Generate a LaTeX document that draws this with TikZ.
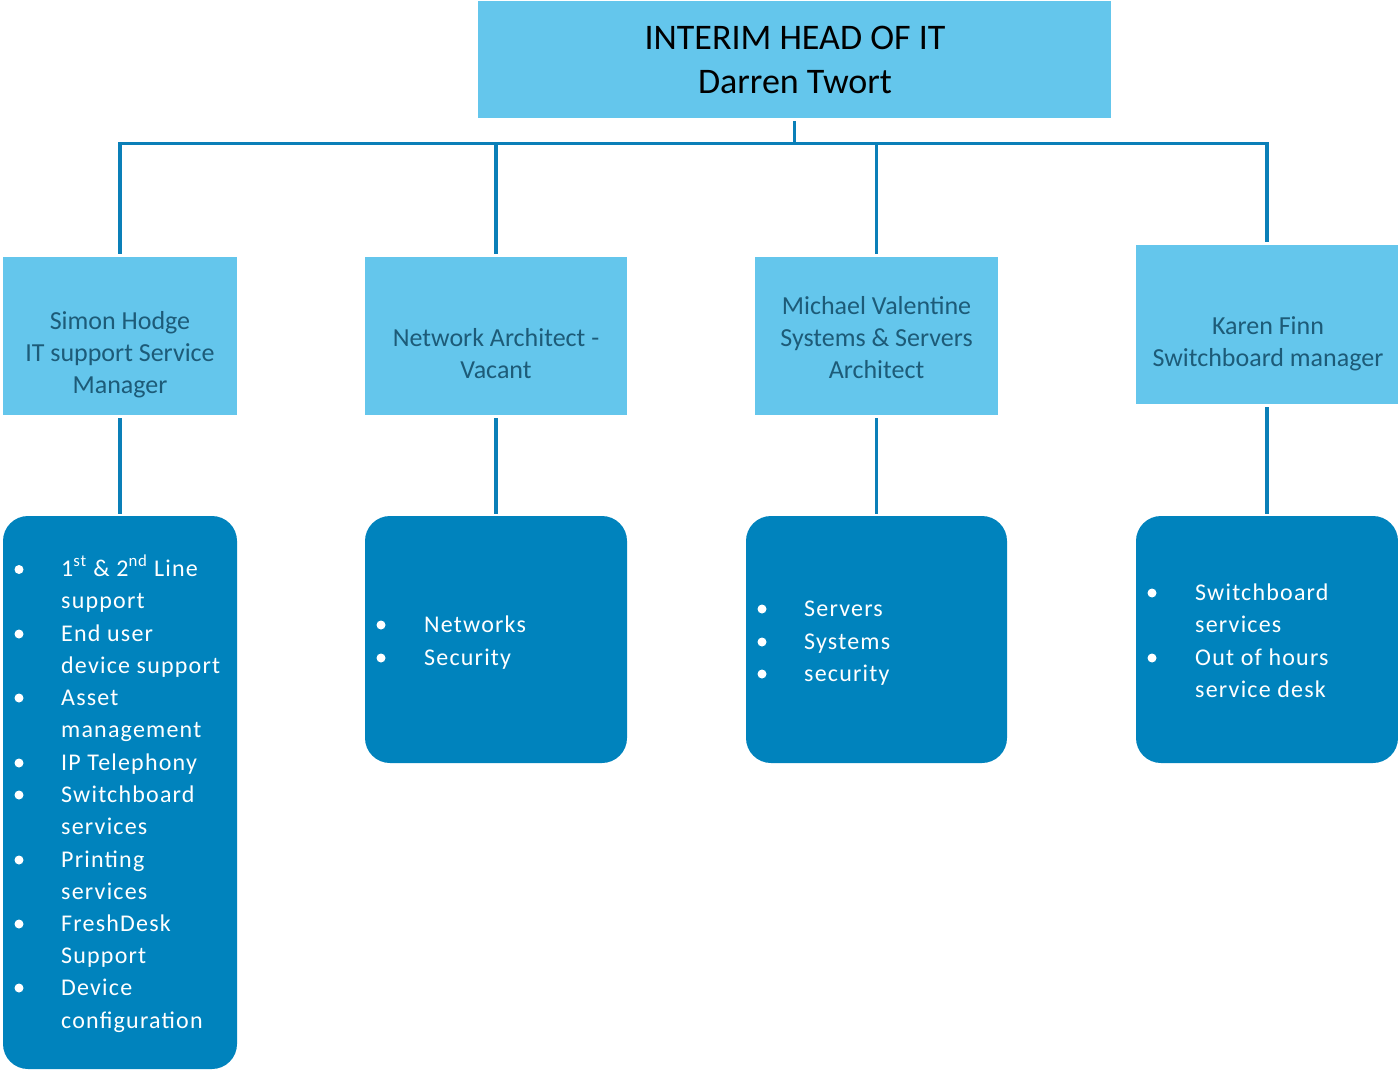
\documentclass[tikz,border=0pt]{standalone}
\usepackage{fontspec}
\setmainfont{Carlito}
\newfontfamily\itemfont[LetterSpace=5]{Carlito}
\definecolor{lightbox}{HTML}{64C6EC}
\definecolor{darkbox}{HTML}{0083BD}
\definecolor{linec}{HTML}{0A7FB8}
\definecolor{roletext}{HTML}{1D5B78}
\tikzset{
  conn/.style={draw=linec, line width=3.8pt},
  headbox/.style={fill=lightbox, inner sep=0, minimum width=633pt, minimum height=117pt},
  rolebox/.style={fill=lightbox, inner sep=0, minimum height=158pt},
  roletxt/.style={text=roletext, align=center, inner sep=0, font=\fontsize{26}{32}\selectfont},
  dutybox/.style={fill=darkbox, rounded corners=25pt, inner sep=0},
  itm/.style={text=white, anchor=base west, inner sep=0, font=\itemfont\fontsize{24}{32}\selectfont},
  bul/.style={circle, fill=white, inner sep=0, minimum size=9pt},
}
\begin{document}
\begin{tikzpicture}[x=1pt,y=-1pt]
\useasboundingbox (0,0) rectangle (1398,1070);
% head
\node[headbox] (top) at (794.5,59.5) {};
\node[align=center, inner sep=0, font=\fontsize{36}{44}\selectfont] (toptxt) at (795,60) {INTERIM HEAD OF IT\\Darren Twort};
% role boxes
\node[rolebox, minimum width=234pt] (m1) at (120,336) {};
\node[rolebox, minimum width=262pt] (m2) at (496,336) {};
\node[rolebox, minimum width=243pt] (m3) at (876.5,336) {};
\node[rolebox, minimum width=262pt, minimum height=159pt] (m4) at (1267,324.5) {};
\node[roletxt] (t1) at (120,355) {Simon Hodge\\IT support Service\\Manager};
\node[roletxt] (t2) at (496,354) {Network Architect -\\Vacant};
\node[roletxt] (t3) at (876.5,338) {Michael Valentine\\Systems \& Servers\\Architect};
\node[roletxt] (t4) at (1268,344) {Karen Finn\\Switchboard manager};
% duty boxes
\node[dutybox, minimum width=234pt, minimum height=553pt] (d1) at (120,792.5) {};
\node[dutybox, minimum width=262pt, minimum height=247pt] (d2) at (496,639.5) {};
\node[dutybox, minimum width=261pt, minimum height=247pt] (d3) at (876.5,639.5) {};
\node[dutybox, minimum width=262pt, minimum height=247pt] (d4) at (1267,639.5) {};
% connectors
\coordinate (busL) at (120,143.5);
\coordinate (busR) at (1267,143.5);
\coordinate (busM) at (794.5,143.5);
\draw[conn] ([yshift=-3pt]top.south) -- (busM);
\draw[conn, line cap=rect] (busL) -- (busR);
\draw[conn] (busL) -- ([yshift=3pt]m1.north);
\draw[conn] (m2.north |- busL) -- ([yshift=3pt]m2.north);
\draw[conn] (m3.north |- busL) -- ([yshift=3pt]m3.north);
\draw[conn] (busR) -- ([yshift=3pt]m4.north);
\draw[conn] ([yshift=-3pt]m1.south) -- ([yshift=2pt]d1.north);
\draw[conn] ([yshift=-3pt]m2.south) -- ([yshift=2pt]d2.north);
\draw[conn] ([yshift=-3pt]m3.south) -- ([yshift=2pt]d3.north);
\draw[conn] ([yshift=-3pt]m4.south) -- ([yshift=2pt]d4.north);
% box 1 items
\node[bul] (b11) at (19,569.5) {};
\node[bul] (b12) at (19,634) {};
\node[bul] (b13) at (19,698) {};
\node[bul] (b14) at (19,763) {};
\node[bul] (b15) at (19,795) {};
\node[bul] (b16) at (19,860) {};
\node[bul] (b17) at (19,924) {};
\node[bul] (b18) at (19,988) {};
\node[itm] (i1a) at (61,576) {1\textsuperscript{st} \& 2\textsuperscript{nd} Line};
\node[itm] (i1b) at (61,608) {support};
\node[itm] (i1c) at (61,641) {End user};
\node[itm] (i1d) at (61,673) {device support};
\node[itm] (i1e) at (61,705) {Asset};
\node[itm] (i1f) at (61,737) {management};
\node[itm] (i1g) at (61,770) {IP Telephony};
\node[itm] (i1h) at (61,802) {Switchboard};
\node[itm] (i1i) at (61,834) {services};
\node[itm] (i1j) at (61,867) {Printing};
\node[itm] (i1k) at (61,899) {services};
\node[itm] (i1l) at (61,931) {FreshDesk};
\node[itm] (i1m) at (61,963) {Support};
\node[itm] (i1n) at (61,995) {Device};
\node[itm] (i1o) at (61,1028) {configuration};
% box 2 items
\node[bul] (b21) at (381,625) {};
\node[bul] (b22) at (381,658) {};
\node[itm] (i2a) at (424,632) {Networks};
\node[itm] (i2b) at (424,665) {Security};
% box 3 items
\node[bul] (b31) at (762,609) {};
\node[bul] (b32) at (762,642) {};
\node[bul] (b33) at (762,674) {};
\node[itm] (i3a) at (804,616) {Servers};
\node[itm] (i3b) at (804,649) {Systems};
\node[itm] (i3c) at (804,681) {security};
% box 4 items
\node[bul] (b41) at (1152,593) {};
\node[bul] (b42) at (1152,658) {};
\node[itm] (i4a) at (1195,600) {Switchboard};
\node[itm] (i4b) at (1195,632) {services};
\node[itm] (i4c) at (1195,665) {Out of hours};
\node[itm] (i4d) at (1195,697) {service desk};
\end{tikzpicture}
\end{document}
